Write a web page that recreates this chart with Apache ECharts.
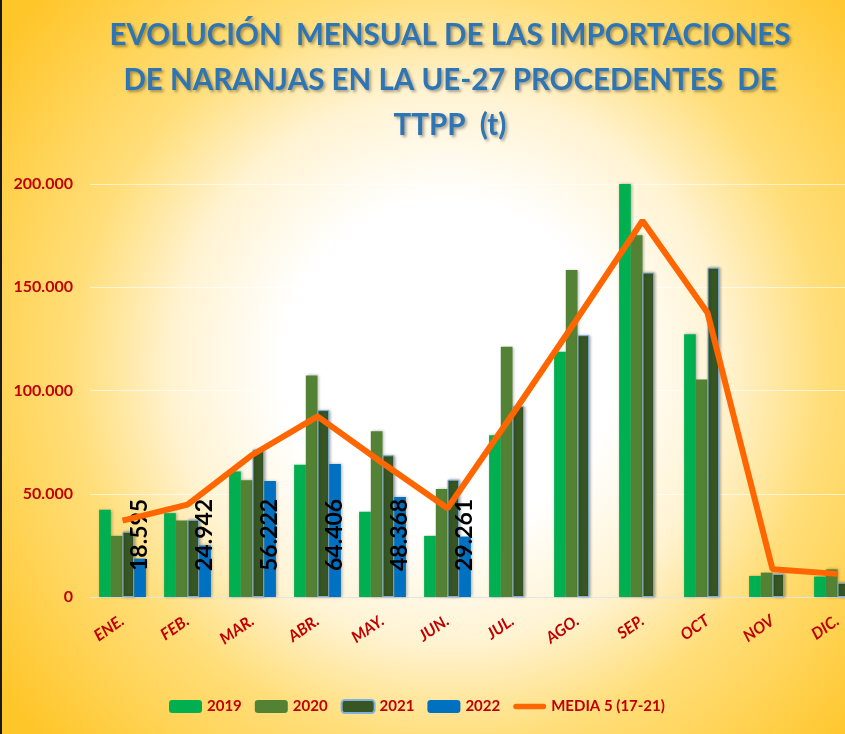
<!DOCTYPE html>
<html>
<head>
<meta charset="utf-8">
<script src="https://cdn.jsdelivr.net/npm/echarts@6/dist/echarts.min.js"></script>
<style>
  html, body { margin: 0; padding: 0; }
  #main { width: 845px; height: 734px; }
</style>
</head>
<body>
<div id="main"></div>
<script>
var months = ['ENE.', 'FEB.', 'MAR.', 'ABR.', 'MAY.', 'JUN.', 'JUL.', 'AGO.', 'SEP.', 'OCT', 'NOV', 'DIC.'];
var y2019 = [42200, 40600, 60800, 64100, 41300, 29600, 78300, 118800, 200000, 127200, 10200, 9900];
var y2020 = [29600, 37000, 56500, 107300, 80300, 52300, 121200, 158400, 175200, 105300, 11800, 13400];
var y2021 = [31600, 37400, 71400, 90500, 68600, 56800, 92400, 126800, 157100, 159500, 11200, 6900];
var y2022 = [18595, 24942, 56222, 64406, 48368, 29261, null, null, null, null, null, null];
var media = [37000, 44700, 68900, 87500, 64900, 43000, 88500, 135000, 182200, 137700, 13400, 11200];

// miles con punto
function fmt(v) {
    return String(Math.round(v)).replace(/\B(?=(\d{3})+(?!\d))/g, '.');
}

var font = 'Lato, "Open Sans", sans-serif';
var red = '#c00000';
var barShadow = { shadowBlur: 3, shadowColor: 'rgba(0,0,0,0.3)', shadowOffsetX: 1, shadowOffsetY: 0 };

var myChart = echarts.init(document.getElementById('main'));
myChart.setOption({
    backgroundColor: {
        type: 'radial', x: 0.53, y: 0.5, r: 0.75,
        colorStops: [
            { offset: 0, color: '#ffffff' },
            { offset: 0.3, color: '#ffffff' },
            { offset: 0.5, color: '#fff3d2' },
            { offset: 0.68, color: '#ffde7a' },
            { offset: 1, color: '#ffc62a' }
        ]
    },
    title: {
        text: 'EVOLUCIÓN  MENSUAL DE LAS IMPORTACIONES\nDE NARANJAS EN LA UE-27 PROCEDENTES  DE\nTTPP  (t)',
        left: 445,
        textAlign: 'center',
        top: 8,
        textStyle: {
            fontFamily: font,
            fontSize: 29.5,
            fontWeight: 'bold',
            color: '#2e75b6',
            lineHeight: 45,
            textShadowColor: 'rgba(0,0,0,0.35)',
            textShadowBlur: 3,
            textShadowOffsetX: 2,
            textShadowOffsetY: 2
        }
    },
    graphic: [{
        type: 'rect',
        shape: { x: 0, y: 0, width: 2, height: 734 },
        style: { fill: '#1a1a1a' }
    }],
    legend: {
        left: 164,
        top: 694,
        itemWidth: 33,
        itemHeight: 13,
        itemGap: 13,
        textStyle: { fontFamily: font, fontSize: 15, fontWeight: 'bold', color: red },
        data: ['2019', '2020', '2021', '2022', {
            name: 'MEDIA 5 (17-21)',
            icon: 'path://M3,0 L33,0 A3,3 0 0 1 33,6 L3,6 A3,3 0 0 1 3,0 Z'
        }]
    },
    grid: { left: 90, right: -25, top: 184, bottom: 137, outerBoundsMode: 'none' },
    xAxis: {
        type: 'category',
        data: months,
        axisTick: { show: false },
        axisLine: { lineStyle: { color: '#e4e4e4', width: 1 } },
        axisLabel: {
            rotate: 35,
            margin: 22,
            interval: 0,
            fontFamily: font,
            fontSize: 16,
            fontWeight: 'bold',
            fontStyle: 'italic',
            color: red
        }
    },
    yAxis: {
        type: 'value',
        min: 0,
        max: 200000,
        interval: 50000,
        axisLine: { show: false },
        axisTick: { show: false },
        splitLine: { lineStyle: { color: 'rgba(255,255,255,0.6)' } },
        axisLabel: {
            margin: 17,
            fontFamily: font,
            fontSize: 16,
            fontWeight: 'bold',
            color: red,
            formatter: fmt
        }
    },
    series: [
        {
            name: '2019', type: 'bar', data: y2019,
            barGap: '0%', barCategoryGap: '28%',
            itemStyle: Object.assign({ color: '#00b050' }, barShadow)
        },
        {
            name: '2020', type: 'bar', data: y2020,
            itemStyle: Object.assign({ color: '#548235' }, barShadow)
        },
        {
            name: '2021', type: 'bar', data: y2021,
            itemStyle: Object.assign({ color: '#375623', borderColor: '#7fb0e0', borderWidth: 1 }, barShadow)
        },
        {
            name: '2022', type: 'bar', data: y2022,
            itemStyle: Object.assign({ color: '#0070c0' }, barShadow),
            label: {
                show: true,
                position: 'insideBottom',
                distance: 26,
                rotate: 90,
                align: 'left',
                verticalAlign: 'middle',
                fontFamily: font,
                fontSize: 23,
                fontWeight: 'bold',
                color: '#000',
                formatter: function (p) { return fmt(p.value); }
            }
        },
        {
            name: 'MEDIA 5 (17-21)', type: 'line', data: media,
            symbol: 'none',
            z: 5,
            lineStyle: { color: '#ff6600', width: 6 },
            itemStyle: { color: '#ff6600' }
        }
    ]
});
</script>
</body>
</html>
